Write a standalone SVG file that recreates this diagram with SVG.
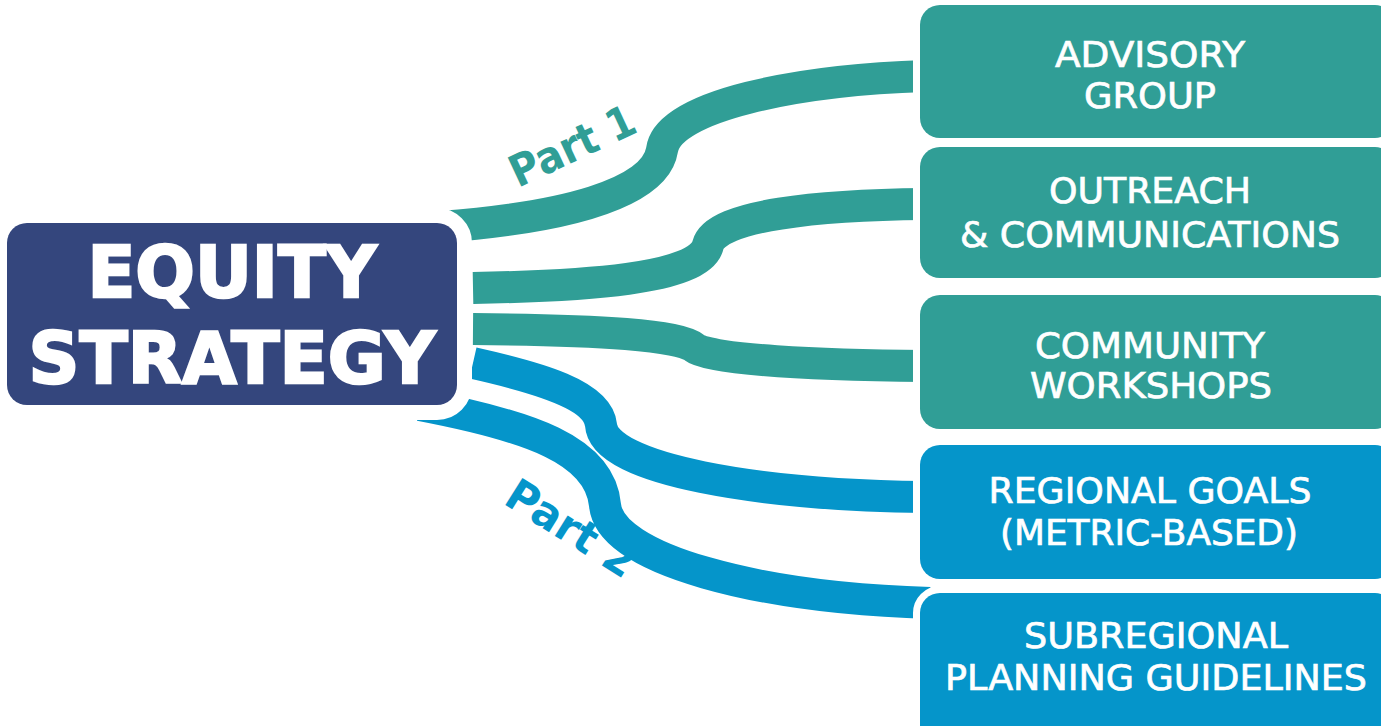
<svg xmlns="http://www.w3.org/2000/svg" width="1381" height="726" viewBox="0 0 1381 726">
  <style>
    .conn { fill: none; stroke-width: 32; stroke-linecap: butt; stroke-linejoin: round; }
    .teal { stroke: #309E96; }
    .blue { stroke: #0595CA; }
    .box { stroke: #FFFFFF; stroke-width: 14; paint-order: stroke; }
    .boxteal { fill: #309E96; }
    .boxblue { fill: #0595CA; }
    .lbl { font-family: "DejaVu Sans", "Liberation Sans", sans-serif; font-size: 35px; fill: #FFFFFF; stroke: #FFFFFF; stroke-width: 0.7; text-anchor: middle; }
    .main { font-family: "DejaVu Sans", "Liberation Sans", sans-serif; font-weight: bold; font-size: 72px; fill: #FFFFFF; stroke: #FFFFFF; stroke-width: 2.5; text-anchor: middle; }
    .part { font-family: "DejaVu Sans", "Liberation Sans", sans-serif; font-weight: bold; font-size: 44px; }
  </style>
  <rect width="1381" height="726" fill="#FFFFFF"/>
  <g id="connectors">
    <path class="conn teal" d="M 440 227 C 560 218, 655 195, 662 150 C 668 105, 800 80, 925 76"/>
    <path class="conn teal" d="M 473 288 C 580 286, 700 280, 708 245 C 716 215, 820 205, 925 204"/>
    <path class="conn teal" d="M 473 329 C 600 330, 680 335, 695 348 C 710 360, 820 365, 925 366"/>
    <path class="conn blue" d="M 473 363 C 540 378, 598 395, 601 425 C 604 470, 760 495, 925 497"/>
    <path class="conn blue" d="M 420 405 C 530 426, 600 450, 605 505 C 610 560, 760 598, 930 603"/>
  </g>
  <g id="equity-strategy">
    <rect x="7" y="223" width="450" height="182" rx="20" fill="#34467D" stroke="#FFFFFF" stroke-width="30" style="paint-order: stroke"/>
    <text class="main" x="232" y="297" textLength="289" lengthAdjust="spacingAndGlyphs">EQUITY</text>
    <text class="main" x="232" y="383" textLength="407" lengthAdjust="spacingAndGlyphs">STRATEGY</text>
  </g>
  <g id="advisory-group">
    <rect class="box boxteal" x="920" y="5" width="475" height="133" rx="20"/>
    <text class="lbl" x="1150" y="67" textLength="190" lengthAdjust="spacingAndGlyphs">ADVISORY</text>
    <text class="lbl" x="1150" y="108" textLength="132" lengthAdjust="spacingAndGlyphs">GROUP</text>
  </g>
  <g id="outreach">
    <rect class="box boxteal" x="920" y="147" width="475" height="131" rx="20"/>
    <text class="lbl" x="1150" y="203" textLength="202" lengthAdjust="spacingAndGlyphs">OUTREACH</text>
    <text class="lbl" x="1150" y="247" textLength="380" lengthAdjust="spacingAndGlyphs">&amp; COMMUNICATIONS</text>
  </g>
  <g id="community-workshops">
    <rect class="box boxteal" x="920" y="295" width="475" height="134" rx="20"/>
    <text class="lbl" x="1150" y="358" textLength="230" lengthAdjust="spacingAndGlyphs">COMMUNITY</text>
    <text class="lbl" x="1151" y="398" textLength="242" lengthAdjust="spacingAndGlyphs">WORKSHOPS</text>
  </g>
  <g id="regional-goals">
    <rect class="box boxblue" x="920" y="445" width="475" height="134" rx="20"/>
    <text class="lbl" x="1150" y="503" textLength="323" lengthAdjust="spacingAndGlyphs">REGIONAL GOALS</text>
    <text class="lbl" x="1149" y="545" textLength="298" lengthAdjust="spacingAndGlyphs">(METRIC-BASED)</text>
  </g>
  <g id="subregional-planning">
    <rect class="box boxblue" x="920" y="593" width="475" height="160" rx="20"/>
    <text class="lbl" x="1156" y="648" textLength="264" lengthAdjust="spacingAndGlyphs">SUBREGIONAL</text>
    <text class="lbl" x="1156" y="690" textLength="422" lengthAdjust="spacingAndGlyphs">PLANNING GUIDELINES</text>
  </g>
  <g id="part-labels">
    <text class="part" fill="#309E96" transform="translate(518,188) rotate(-25)" textLength="134" lengthAdjust="spacingAndGlyphs">Part 1</text>
    <text class="part" fill="#0595CA" transform="translate(502,503) rotate(32)" textLength="144" lengthAdjust="spacingAndGlyphs">Part 2</text>
  </g>
</svg>
